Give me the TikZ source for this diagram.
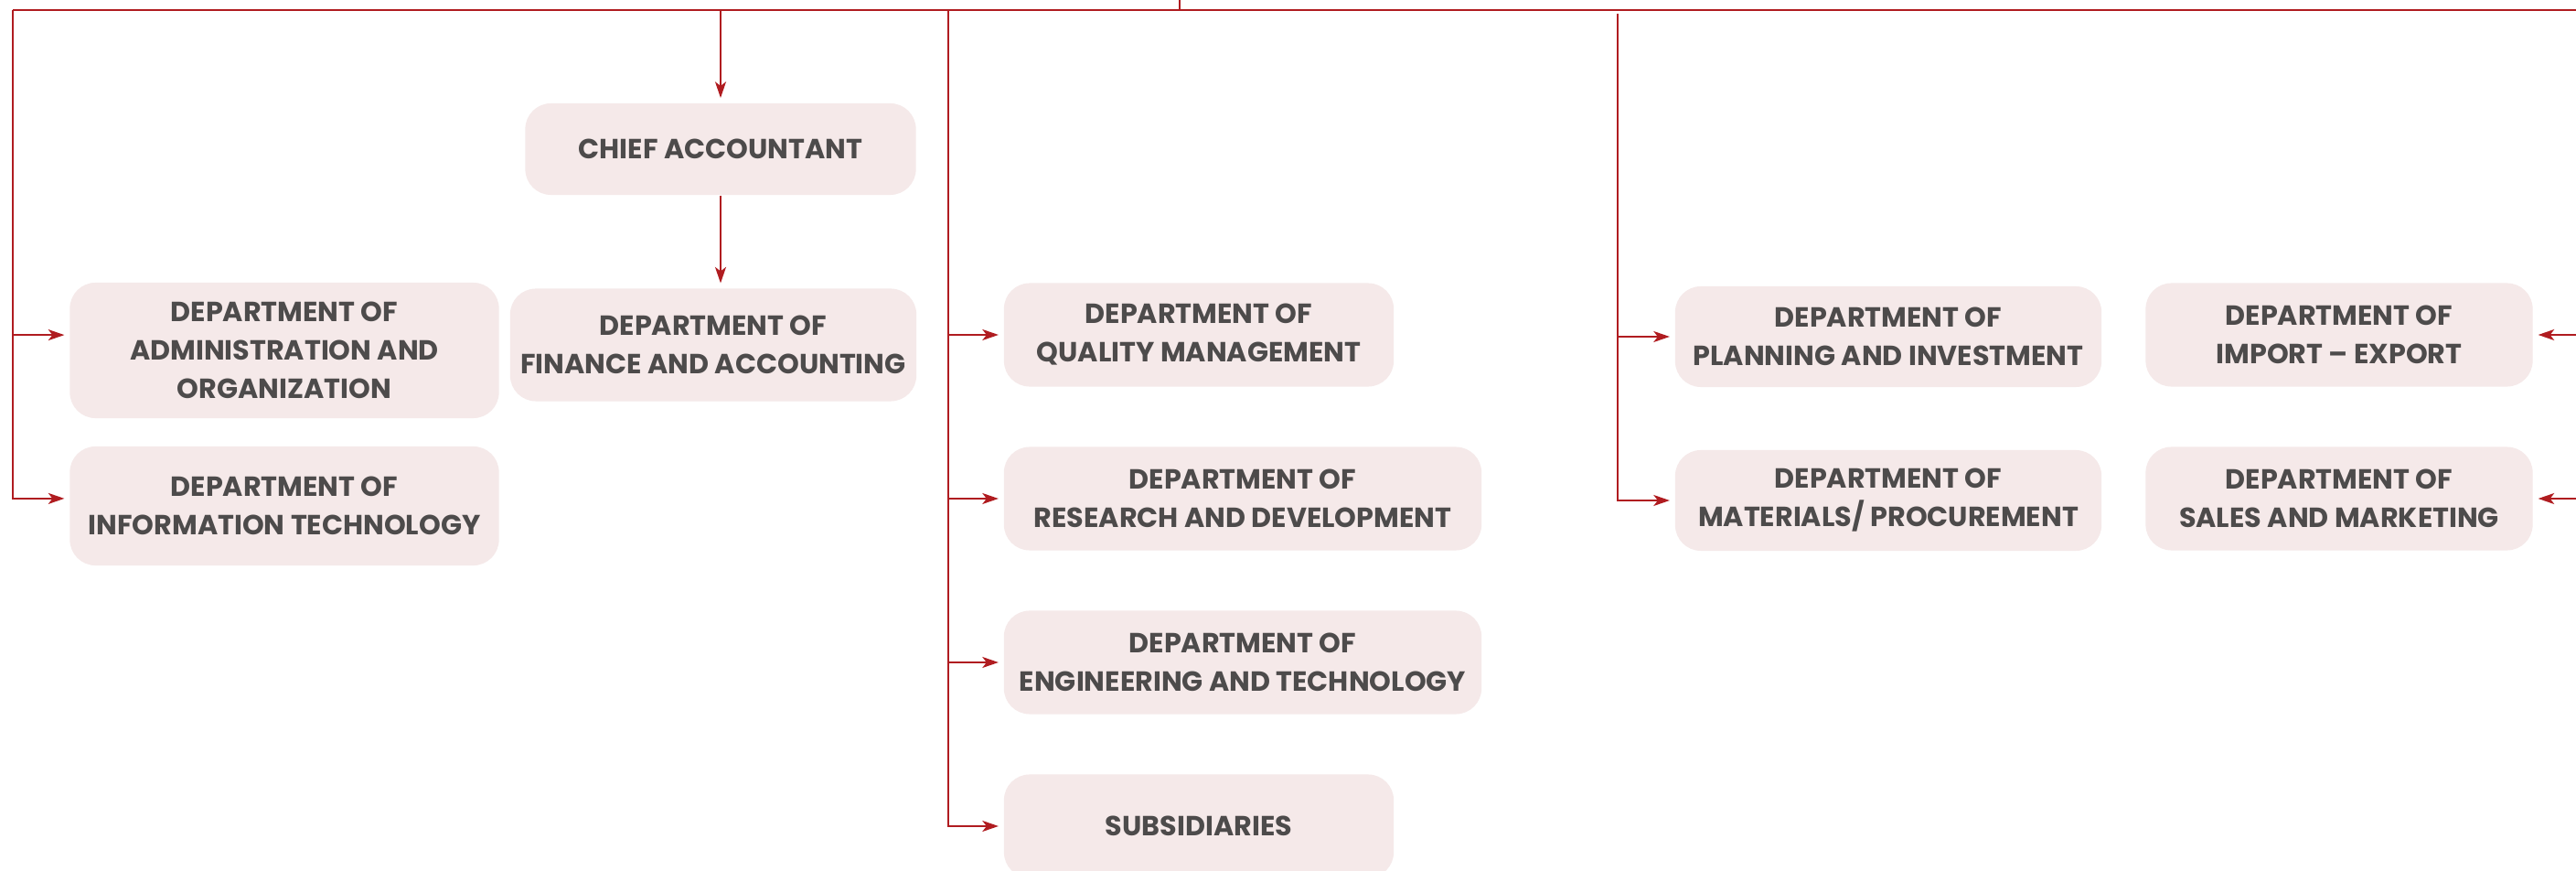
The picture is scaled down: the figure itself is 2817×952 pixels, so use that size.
\documentclass[tikz,border=0pt]{standalone}
\usepackage{fontspec}
\setmainfont{Poppins}
\usepackage{tikz}
\usepackage{xcolor}
\usetikzlibrary{arrows.meta,positioning}

\definecolor{linered}{HTML}{B01C20}
\definecolor{boxfill}{HTML}{F5E9E9}
\definecolor{boxtext}{HTML}{4D4B4B}

\tikzset{
  box/.style={rounded corners=8pt, fill=boxfill, text=boxtext, align=center,
    inner sep=0pt, font=\fontsize{8.6}{11.95}\selectfont\bfseries},
  conn/.style={draw=linered, line width=0.6pt},
  arr/.style={conn, -{Stealth[length=5pt,width=3.4pt,inset=1.3pt]}, shorten >=1.5pt}
}

\begin{document}
\begin{tikzpicture}[x=0.01cm,y=-0.01cm]
\clip (0,0) rectangle (2817,952);
\fill[white] (0,0) rectangle (2817,952);

% Left branch
\node[box, minimum width=4.69cm, minimum height=1.48cm] (admin) at (311,383)
  {DEPARTMENT OF\\ADMINISTRATION AND\\ORGANIZATION};
\node[box, minimum width=4.69cm, minimum height=1.30cm] (it) at (311,553)
  {DEPARTMENT OF\\INFORMATION TECHNOLOGY};

% Finance branch
\node[box, minimum width=4.27cm, minimum height=1.00cm] (chief) at (788,163)
  {CHIEF ACCOUNTANT};
\node[box, minimum width=4.44cm, minimum height=1.23cm] (finance) at (780,377)
  {DEPARTMENT OF\\FINANCE AND ACCOUNTING};

% Middle branch
\node[box, minimum width=4.26cm, minimum height=1.13cm] (quality) at (1311,366)
  {DEPARTMENT OF\\QUALITY MANAGEMENT};
\node[box, minimum width=5.22cm, minimum height=1.13cm] (rd) at (1359,545)
  {DEPARTMENT OF\\RESEARCH AND DEVELOPMENT};
\node[box, minimum width=5.22cm, minimum height=1.13cm] (et) at (1359,724)
  {DEPARTMENT OF\\ENGINEERING AND TECHNOLOGY};
\node[box, minimum width=4.26cm, minimum height=1.13cm] (subs) at (1311,903)
  {SUBSIDIARIES};

% Right branch
\node[box, minimum width=4.66cm, minimum height=1.10cm] (planning) at (2065,368)
  {DEPARTMENT OF\\PLANNING AND INVESTMENT};
\node[box, minimum width=4.66cm, minimum height=1.10cm] (materials) at (2065,547)
  {DEPARTMENT OF\\MATERIALS/ PROCUREMENT};
\node[box, minimum width=4.23cm, minimum height=1.13cm] (import) at (2558,366)
  {DEPARTMENT OF\\IMPORT -- EXPORT};
\node[box, minimum width=4.23cm, minimum height=1.13cm] (sales) at (2558,545)
  {DEPARTMENT OF\\SALES AND MARKETING};

% Bus lines
\coordinate (top) at (1290,0);
\coordinate (lft) at (14,11);
\coordinate (rgt) at (2840,11);
\coordinate (mid) at (1037,11);
\coordinate (rmid) at (1769,15);
\draw[conn] (lft) -- (rgt);
\draw[conn] (top) -- (top |- lft);

% Connectors
\draw[arr] (lft) |- ([yshift=4.8pt]admin.west);
\draw[arr] (lft) |- ([yshift=2.3pt]it.west);
\draw[arr] (chief |- lft) -- (chief.north);
\draw[arr] (chief.south) -- (chief.south |- finance.north);
\draw[arr] (mid) |- (quality.west);
\draw[arr] (mid) |- (rd.west);
\draw[arr] (mid) |- (et.west);
\draw[arr] (mid) |- (subs.west);
\draw[arr] (rmid) |- (planning.west);
\draw[arr] (rmid) |- (materials.west);
\draw[arr] (rgt) |- (import.east);
\draw[arr] (rgt) |- (sales.east);
\end{tikzpicture}
\end{document}
